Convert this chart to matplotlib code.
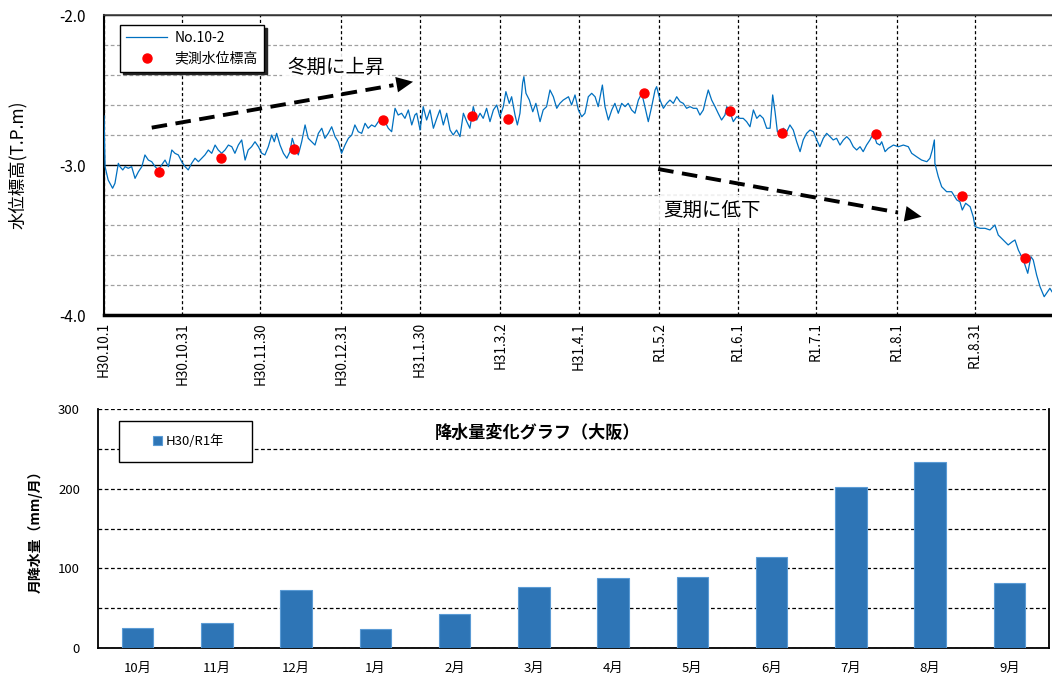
import numpy as np
import pandas as pd
import matplotlib
matplotlib.use('Agg')
import matplotlib.pyplot as plt
from matplotlib.patches import Rectangle

plt.rcParams['font.family'] = ['Noto Sans CJK JP', 'DejaVu Sans']

# ---- water level (top panel) ----
START = pd.Timestamp('2018-10-01')
END_DAYS = 363.5

# days since 2018-10-01 and level (T.P.m)
level_days = [
    0.0, 0.4, 1.6, 3.3, 4.2, 5.5, 6.1, 7.2, 8.1, 9.3, 10.6, 11.9, 13.2, 14.5, 15.7, 17.0, 18.3, 19.6, 20.8, 22.1,
    23.4, 24.7, 26.0, 27.2, 28.5, 29.8, 31.1, 32.3, 33.6, 34.9, 36.2, 37.5, 38.7, 40.0, 41.3, 42.6, 43.8, 45.1, 46.4, 47.7,
    49.0, 50.2, 51.5, 52.8, 54.1, 55.3, 56.6,
    57.9, 59.2, 60.5, 61.7, 63.0, 64.3, 65.3, 66.2, 67.5, 68.8, 70.1, 71.3, 72.2, 73.2, 74.5, 75.8, 77.1, 78.3, 79.6, 80.9,
    82.2, 83.5, 84.7, 86.0, 87.3, 88.6, 89.8, 91.1, 92.4, 93.7, 95.0, 96.2, 97.5, 98.8, 100.1, 101.3, 102.6, 103.9, 105.2, 107.1,
    109.0, 110.3, 111.6, 112.8, 114.1, 115.4, 116.7, 118.0, 119.2,
    119.9, 121.2, 122.4, 123.7, 125.0, 126.3, 127.6, 128.8, 130.1, 131.4, 132.7, 133.9, 135.2, 136.5, 137.8, 139.1, 140.3, 141.6, 142.9, 144.2,
    145.4, 146.7, 148.0, 149.3, 150.6, 151.8, 153.1, 154.1, 155.4, 156.3, 157.6, 158.5, 159.5, 160.5, 161.0, 161.8, 163.1, 164.4, 165.6, 167.2,
    168.4, 169.7, 171.0, 172.3, 173.6, 174.8, 176.1,
    178.1, 179.3, 180.6, 181.9, 183.2, 184.4, 185.7, 187.0, 188.3, 189.5, 191.1, 192.1, 193.4, 194.7, 195.9, 197.2, 198.5, 199.8, 201.0, 202.3,
    203.6, 204.9, 206.2, 207.4, 208.7, 210.0, 211.3, 211.9, 213.2, 214.5, 215.8, 217.0, 218.3, 219.6, 220.9, 222.1, 223.4, 224.7, 226.0, 227.3,
    228.5, 229.8, 230.7, 231.7, 233.0, 234.3, 235.5, 236.8, 238.1,
    238.8, 240.0, 241.3, 242.6, 243.9, 245.1, 246.4, 247.7, 249.0, 250.3, 251.5, 252.8, 254.1, 255.4, 256.4, 257.3, 258.2, 259.2, 260.5, 261.8,
    263.0, 264.3, 265.6, 266.9, 268.1, 269.4, 270.7, 272.0, 273.3, 274.5, 275.8, 277.1, 278.4, 279.6, 280.9, 282.2, 283.5, 284.8, 286.0, 287.3,
    288.6, 289.9, 291.1, 292.4, 293.7, 295.0, 296.3, 297.5,
    298.2, 299.5, 300.7, 302.7, 304.6, 306.5, 308.4, 309.7, 311.6, 313.5, 315.5, 316.7, 317.6, 318.4, 318.6, 319.9, 321.2, 323.1, 325.0, 327.0,
    328.2, 329.1, 330.4, 332.1, 333.3, 334.0, 335.9, 337.8, 339.7, 341.6, 342.9, 344.8, 346.7, 348.3, 349.3, 350.6, 352.5, 354.2, 355.4, 356.3,
    357.6, 358.9, 360.5, 361.8, 362.7, 363.5,
]
level_vals = [
    -2.673, -3.011, -3.100, -3.155, -3.122, -2.989, -3.011, -3.033, -3.011, -3.022, -3.011, -3.089, -3.045, -3.011, -2.933, -2.967, -2.978, -3.011, -3.033, -3.000,
    -2.967, -3.011, -2.900, -2.922, -2.933, -2.978, -3.011, -3.033, -2.989, -2.955, -2.978, -2.955, -2.933, -2.900, -2.922, -2.867, -2.900, -2.922, -2.900, -2.867,
    -2.878, -2.922, -2.867, -2.833, -2.967, -2.900, -2.878,
    -2.845, -2.878, -2.922, -2.933, -2.878, -2.800, -2.845, -2.789, -2.867, -2.922, -2.955, -2.911, -2.822, -2.878, -2.933, -2.845, -2.733, -2.822, -2.845, -2.867,
    -2.789, -2.755, -2.822, -2.789, -2.745, -2.811, -2.845, -2.922, -2.867, -2.822, -2.800, -2.733, -2.778, -2.789, -2.722, -2.755, -2.733, -2.745, -2.711, -2.689,
    -2.755, -2.778, -2.622, -2.667, -2.655, -2.689, -2.633, -2.733, -2.667,
    -2.655, -2.767, -2.611, -2.700, -2.633, -2.755, -2.689, -2.633, -2.733, -2.655, -2.767, -2.800, -2.767, -2.811, -2.655, -2.711, -2.755, -2.611, -2.700, -2.655,
    -2.689, -2.622, -2.711, -2.633, -2.600, -2.678, -2.611, -2.511, -2.589, -2.545, -2.667, -2.733, -2.655, -2.455, -2.411, -2.522, -2.567, -2.645, -2.589, -2.711,
    -2.633, -2.611, -2.500, -2.545, -2.622, -2.589, -2.567,
    -2.545, -2.600, -2.533, -2.633, -2.678, -2.655, -2.545, -2.522, -2.545, -2.611, -2.467, -2.611, -2.700, -2.633, -2.589, -2.655, -2.589, -2.611, -2.589, -2.633,
    -2.655, -2.567, -2.522, -2.611, -2.711, -2.611, -2.500, -2.478, -2.567, -2.622, -2.589, -2.567, -2.589, -2.545, -2.578, -2.589, -2.622, -2.611, -2.622, -2.622,
    -2.667, -2.633, -2.567, -2.500, -2.567, -2.611, -2.655, -2.700, -2.667,
    -2.611, -2.645, -2.711, -2.678, -2.689, -2.689, -2.711, -2.745, -2.633, -2.689, -2.667, -2.689, -2.755, -2.755, -2.533, -2.645, -2.778, -2.789, -2.755, -2.778,
    -2.733, -2.767, -2.845, -2.911, -2.833, -2.789, -2.767, -2.778, -2.833, -2.878, -2.822, -2.789, -2.811, -2.833, -2.822, -2.867, -2.833, -2.811, -2.833, -2.878,
    -2.900, -2.878, -2.911, -2.867, -2.833, -2.789, -2.855, -2.867,
    -2.845, -2.911, -2.889, -2.867, -2.878, -2.867, -2.878, -2.922, -2.945, -2.967, -2.978, -2.955, -2.900, -2.833, -2.989, -3.078, -3.145, -3.178, -3.178, -3.233,
    -3.245, -3.300, -3.255, -3.278, -3.345, -3.411, -3.422, -3.422, -3.433, -3.400, -3.467, -3.500, -3.533, -3.511, -3.500, -3.567, -3.633, -3.722, -3.611, -3.633,
    -3.733, -3.811, -3.878, -3.845, -3.822, -3.845,
]

# measured points
meas_days = [21, 45, 73, 107, 141, 155, 207, 240, 260, 296, 329, 353]
meas_vals = [-3.047, -2.953, -2.893, -2.700, -2.673, -2.693, -2.522, -2.640, -2.787, -2.795, -3.207, -3.618]

tick_dates = ['2018-10-01', '2018-10-31', '2018-11-30', '2018-12-31', '2019-01-30', '2019-03-02',
              '2019-04-01', '2019-05-02', '2019-06-01', '2019-07-01', '2019-08-01', '2019-08-31']
tick_labels = ['H30.10.1', 'H30.10.31', 'H30.11.30', 'H30.12.31', 'H31.1.30', 'H31.3.2',
               'H31.4.1', 'R1.5.2', 'R1.6.1', 'R1.7.1', 'R1.8.1', 'R1.8.31']

# trend arrows: (start day, start level, end day, end level)
arrow_up = (18.3, -2.751, 118.5, -2.445)
arrow_down = (212.5, -3.027, 313.5, -3.345)

# ---- rainfall (bottom panel) ----
months = ['10月', '11月', '12月', '1月', '2月', '3月', '4月', '5月', '6月', '7月', '8月', '9月']
rain = [25, 31, 73, 24, 43, 76, 88, 89, 114, 202, 234, 82]


def to_date(d):
    return START + pd.to_timedelta(d, unit='D')


fig = plt.figure(figsize=(10.52, 6.77), dpi=100)
ax = fig.add_axes([104 / 1052, 1 - 315 / 677, 948 / 1052, 300 / 677])
ax2 = fig.add_axes([98 / 1052, 1 - 648 / 677, 951 / 1052, 239 / 677])

# top panel
x_line = to_date(np.array(level_days))
ax.plot(x_line, level_vals, color='#0070C0', lw=0.9, label='No.10-2', zorder=3)
ax.plot(to_date(np.array(meas_days)), meas_vals, 'o', color='red', ms=6.5, ls='none',
        label='実測水位標高', zorder=4)

ax.set_xlim(START, to_date(END_DAYS))
ax.set_ylim(-4.0, -2.0)
ax.set_yticks([-4.0, -3.0, -2.0])
ax.set_yticklabels(['-4.0', '-3.0', '-2.0'])
ax.set_yticks(np.arange(-3.8, -2.0, 0.2), minor=True)
ax.set_xticks(pd.to_datetime(tick_dates))
ax.set_xticklabels(tick_labels, rotation=90, fontsize=9.8)
ax.tick_params(axis='y', which='both', length=0, pad=13, labelsize=11)
ax.tick_params(axis='x', length=0, pad=5)

ax.yaxis.grid(True, which='minor', color='#a0a0a0', linestyle=(0, (3, 2)), lw=0.9)
ax.yaxis.grid(True, which='major', color='black', linestyle='-', lw=1.0)
ax.xaxis.grid(True, which='major', color='black', linestyle=(0, (2.5, 2)), lw=0.9)
ax.set_axisbelow(True)

ax.spines['right'].set_visible(False)
ax.spines['top'].set_linewidth(1.2)
ax.spines['top'].set_color('#404040')
ax.spines['left'].set_linewidth(1.5)
ax.spines['bottom'].set_linewidth(2.5)

ax.set_ylabel('水位標高(T.P.m)', fontsize=12.5)
ax.yaxis.set_label_coords(-0.081, 0.5)

leg = ax.legend(loc='upper left', bbox_to_anchor=(0.017, 0.967), borderaxespad=0, fontsize=10,
                frameon=True, fancybox=False, shadow={'color': '0.15', 'alpha': 1},
                edgecolor='black', framealpha=1, borderpad=0.45, handlelength=2.9,
                handletextpad=0.55, labelspacing=0.45)
leg.get_frame().set_linewidth(1.0)


def trend_arrow(a, frac_line, frac_head):
    x0, y0, x1, y1 = a
    xa = x0 + (x1 - x0) * frac_line
    ya = y0 + (y1 - y0) * frac_line
    xh = x0 + (x1 - x0) * frac_head
    yh = y0 + (y1 - y0) * frac_head
    ax.plot([to_date(x0), to_date(xa)], [y0, ya], color='black', lw=2.8,
            dashes=(4, 2.2), solid_capstyle='butt', zorder=5)
    ax.annotate('', xy=(to_date(x1), y1), xytext=(to_date(xh), yh),
                arrowprops=dict(arrowstyle='-|>,head_length=0.6,head_width=0.28',
                                mutation_scale=20, color='black', lw=0,
                                shrinkA=0, shrinkB=0), zorder=5)


trend_arrow(arrow_up, 0.925, 0.94)
trend_arrow(arrow_down, 0.91, 0.935)

box = dict(boxstyle='square,pad=0.25', fc='white', ec='none', alpha=0.85)
ax.text(to_date(70.2), -2.347, '冬期に上昇', fontsize=14, ha='left', va='center', bbox=box, zorder=4)
ax.text(to_date(214.3), -3.30, '夏期に低下', fontsize=14, ha='left', va='center', bbox=box, zorder=4)

# bottom panel
xpos = np.arange(len(months))
ax2.bar(xpos, rain, width=0.4, color='#2E75B6', edgecolor='#5B9BD5', lw=0.8,
        label='H30/R1年', zorder=3)
ax2.set_xlim(-0.5, len(months) - 0.5)
ax2.set_ylim(0, 300)
ax2.set_xticks(xpos)
ax2.set_xticklabels(months, fontsize=9.5)
ax2.set_yticks([0, 100, 200, 300])
ax2.set_yticks([50, 150, 250], minor=True)
ax2.tick_params(axis='y', which='both', length=0, pad=13, labelsize=9.5)
ax2.tick_params(axis='x', length=0, pad=10)
ax2.yaxis.grid(True, which='both', color='black', linestyle=(0, (3, 2)), lw=0.9)
ax2.set_axisbelow(True)
ax2.spines['top'].set_visible(False)
for s in ['left', 'bottom', 'right']:
    ax2.spines[s].set_linewidth(1.3)

ax2.set_ylabel('月降水量（mm/月）', fontsize=10, fontweight='bold')
ax2.yaxis.set_label_coords(-0.058, 0.5)

ax2.text(0.462, 0.90, '降水量変化グラフ（大阪）', transform=ax2.transAxes, ha='center',
         va='center', fontsize=12.3, fontweight='bold')

ax2.add_patch(Rectangle((0.0221, 0.7782), 0.1398, 0.1716, transform=ax2.transAxes,
                        facecolor='white', edgecolor='black', lw=1.0, zorder=6))
leg2 = ax2.legend(loc='center', bbox_to_anchor=(0.095, 0.864), frameon=False, fontsize=9.5,
                  handlelength=0.7, handleheight=0.7, handletextpad=0.3)
leg2.set_zorder(7)

fig.savefig('out.png', dpi=100)
